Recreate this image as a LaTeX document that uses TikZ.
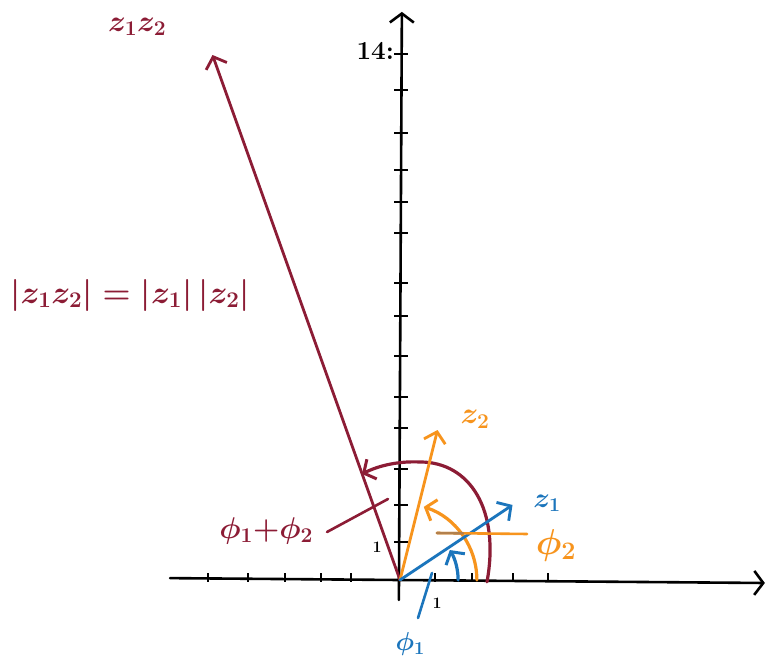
\RequirePackage{fix-cm}
\documentclass[tikz,border=0pt]{standalone}
\usetikzlibrary{arrows.meta}
\definecolor{zred}{HTML}{8C1C35}
\definecolor{zorange}{HTML}{F7941D}
\definecolor{zblue}{HTML}{1B75BC}
\begin{document}
\begin{tikzpicture}[x=37.5pt,y=37.5pt,
  axisline/.style={line width=2.6pt, black, line cap=round,
    -{Straight Barb[length=9pt,width=24pt,line width=2.6pt]}},
  tickmark/.style={line width=1.8pt, black},
  vecline/.style={line width=2.8pt, line cap=round,
    -{Straight Barb[length=10pt,width=22pt,line width=2.8pt]}},
  arcline/.style={line width=3.2pt, line cap=round,
    -{Straight Barb[length=9pt,width=22pt,line width=3pt]}},
  pointer/.style={line width=2.6pt, line cap=round},
  lbl/.style={inner sep=0pt}
]
\useasboundingbox (-10.667,-2.24) rectangle (9.76,15.467);
\fill[white] (-10.667,-2.24) rectangle (9.76,15.467);

% coordinates
\coordinate (O) at (0,0);
\coordinate (Z1) at (3,2);
\coordinate (Z2) at (1,4);
\coordinate (P) at (-5,14);
\coordinate (XL) at (-6.13,0.05);
\coordinate (XR) at (9.73,-0.08);
\coordinate (YB) at (-0.03,-0.53);
\coordinate (YT) at (0.05,15.15);

% axes
\draw[axisline] (XL) -- (XR);
\draw[axisline] (YB) -- (YT);
\foreach \x in {-5.12,-4.05,-3.07,-2.11,-1.31,0.93,1.92,3.01,3.95}
  \draw[tickmark] (\x,-0.04) -- (\x,0.2);
\foreach \y in {14.03,13.07,11.92,10.93,10.08,9.25,7.92,7.04,5.97,4.88,4.05,2.96,2.0,1.01}
  \draw[tickmark] (-0.15,\y) -- (0.22,\y);
\node[lbl, font=\fontsize{26}{28}\selectfont\bfseries] (L14) at (-0.66,14.12) {14:};
\node[lbl, font=\fontsize{16}{18}\selectfont\bfseries] (Ly1) at (-0.61,0.88) {1};
\node[lbl, font=\fontsize{16}{18}\selectfont\bfseries] (Lx1) at (0.99,-0.61) {1};

% angle arcs
\draw[arcline, zblue] (1.55,0) arc[start angle=0, end angle=31, radius=1.55];
\draw[arcline, zorange] (2.05,0) arc[start angle=0, end angle=72, radius=2.05];
\draw[arcline, zred] (2.32,-0.05) .. controls (2.67,1.87) and (1.867,3.147) .. (0.533,3.147)
   .. controls (0,3.173) and (-0.533,3.067) .. (-1.013,2.827);

% vectors
\draw[vecline, zred] (O) -- (P);
\draw[vecline, zorange] (O) -- (Z2);
\draw[vecline, zblue] (O) -- (Z1);

% labels
\node[lbl, zred, font=\fontsize{30}{32}\selectfont\boldmath] (Lp) at (-7.01,14.75) {$z_1z_2$};
\node[lbl, zred, font=\fontsize{32}{34}\selectfont\boldmath] (Lf) at (-7.2,7.6) {$|z_1z_2|=|z_1|\,|z_2|$};
\node[lbl, zorange, font=\fontsize{30}{32}\selectfont\boldmath] (Lz2) at (2.0,4.29) {$z_2$};
\node[lbl, zblue, font=\fontsize{28}{30}\selectfont\boldmath] (Lz1) at (3.92,2.05) {$z_1$};
\node[lbl, zorange, font=\fontsize{36}{38}\selectfont\boldmath] (Lphi2) at (4.16,0.93) {$\phi_2$};
\node[lbl, zblue, font=\fontsize{26}{28}\selectfont\boldmath] (Lphi1) at (0.27,-1.71) {$\phi_1$};
\node[lbl, zred, font=\fontsize{30}{32}\selectfont\boldmath] (Lphi12) at (-3.57,1.31) {$\phi_1{+}\phi_2$};

% pointer lines
\coordinate (B1) at (0.48,-1.013);
\coordinate (B2) at (0.853,0.187);
\draw[pointer, zblue] (B1) -- (B2);
\coordinate (Q1) at (0.987,1.253);
\coordinate (Q2) at (3.387,1.227);
\coordinate (Q3) at (1.68,1.245);
\draw[pointer, zorange] (Q1) -- (Q2);
\draw[pointer, color=brown!80!gray] (Q1) -- (Q3);
\coordinate (R1) at (-1.947,1.28);
\coordinate (R2) at (-0.32,2.16);
\draw[pointer, zred] (R1) -- (R2);
\end{tikzpicture}
\end{document}
